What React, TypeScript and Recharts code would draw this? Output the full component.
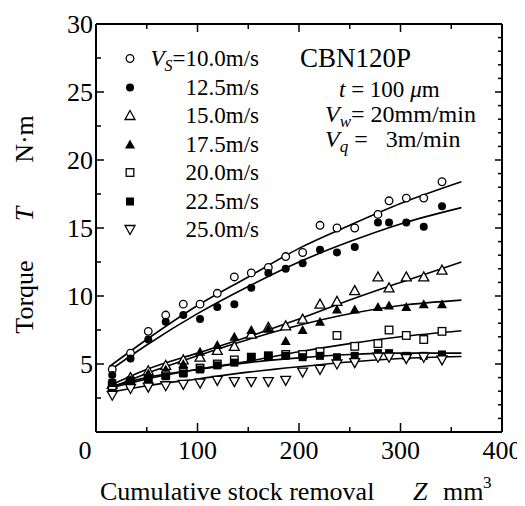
import React from 'react';
import { ComposedChart, XAxis, YAxis, Scatter, Line } from 'recharts';

const FONT = '"Liberation Serif", "Times New Roman", serif';

// Cumulative stock removal Z (mm^3) of the measured points
const Z = [16, 34, 51.5, 68.7, 86, 102.5, 119.5, 136.3, 153, 169.8, 186.9, 203.6, 220.7, 237.4, 254.9, 277.8, 288.7, 305.7, 322.9, 340.9];

// Torque T (N·m) for each grinding speed
const T10 = [4.6, 5.8, 7.4, 8.6, 9.4, 9.4, 10.2, 11.4, 11.7, 12.1, 12.9, 13.2, 15.2, 15.0, 15.0, 16.0, 17.0, 17.2, 17.2, 18.4];
const T12_5 = [4.2, 5.4, 6.8, 8.1, 8.6, 8.3, 9.2, 9.4, 10.6, 11.7, 12.0, 12.4, 13.4, 13.2, 13.6, 15.4, 15.4, 15.4, 15.1, 16.6];
const T15 = [3.5, 4.0, 4.5, 4.9, 5.3, 5.5, 6.0, 6.3, 7.2, 7.7, 7.8, 8.3, 9.4, 9.6, 10.4, 11.4, 10.6, 11.4, 11.4, 11.9];
const T17_5 = [3.3, 3.8, 4.3, 4.6, 5.0, 5.9, 6.4, 7.0, 7.5, 7.6, 6.7, 7.5, 8.1, 9.0, 9.0, 9.2, 9.3, 9.2, 9.4, 9.4];
const T20 = [3.4, 3.6, 3.9, 4.2, 4.4, 4.7, 5.0, 5.3, 5.5, 5.6, 5.7, 5.7, 5.9, 7.1, 6.3, 6.5, 7.5, 7.1, 6.8, 7.4];
const T22_5 = [3.6, 3.8, 3.9, 4.1, 4.3, 4.6, 4.9, 5.1, 5.5, 5.6, 5.6, 5.5, 5.6, 5.5, 5.6, 5.8, 5.8, 5.6, 5.6, 5.7];
const T25 = [2.7, 3.2, 3.3, 3.4, 3.5, 3.6, 3.8, 3.7, 3.7, 3.7, 3.8, 4.4, 4.6, 5.0, 5.1, 5.5, 5.5, 5.4, 5.5, 5.3];

// Fitted curves
const FIT_Z = [13, 50, 100, 150, 200, 250, 300, 360];
const FIT10 = [4.8, 6.8, 9.3, 11.4, 13.5, 15.2, 16.8, 18.4];
const FIT12_5 = [4.5, 6.4, 8.7, 10.7, 12.5, 14.0, 15.3, 16.5];
const FIT15 = [3.4, 4.6, 5.8, 7.0, 8.3, 9.7, 11.0, 12.5];
const FIT17_5 = [3.2, 4.3, 5.6, 6.8, 7.85, 8.7, 9.3, 9.7];
const FIT20 = [3.2, 3.9, 4.6, 5.2, 5.9, 6.5, 7.0, 7.45];
const FIT22_5 = [3.3, 4.0, 4.6, 5.1, 5.45, 5.7, 5.8, 5.8];
const FIT25 = [2.9, 3.4, 3.9, 4.4, 4.8, 5.15, 5.4, 5.55];

const SPEEDS = ['10.0', '12.5', '15.0', '17.5', '20.0', '22.5', '25.0'];
const KINDS = ['circleOpen', 'circleFill', 'triOpen', 'triFill', 'sqOpen', 'sqFill', 'invTriOpen'];
const SERIES = [T10, T12_5, T15, T17_5, T20, T22_5, T25];
const FITS = [FIT10, FIT12_5, FIT15, FIT17_5, FIT20, FIT22_5, FIT25];

const X_TICKS = [0, 50, 100, 150, 200, 250, 300, 350, 400];
const Y_TICKS_L = [0, 2.5, 5, 7.5, 10, 12.5, 15, 17.5, 20, 22.5, 25, 27.5, 30];
const Y_TICKS_R = Array.from({ length: 31 }, (_, i) => i);

function Marker({ kind, cx, cy }: { kind: string; cx: number; cy: number }) {
  const sw = 1.3;
  switch (kind) {
    case 'circleOpen':
      return <circle cx={cx} cy={cy} r={3.8} fill="#fff" stroke="#000" strokeWidth={sw} />;
    case 'circleFill':
      return <circle cx={cx} cy={cy} r={4} fill="#000" />;
    case 'triOpen':
      return <polygon points={`${cx},${cy - 5} ${cx - 5},${cy + 4} ${cx + 5},${cy + 4}`} fill="#fff" stroke="#000" strokeWidth={sw} />;
    case 'triFill':
      return <polygon points={`${cx},${cy - 5} ${cx - 5},${cy + 4} ${cx + 5},${cy + 4}`} fill="#000" />;
    case 'sqOpen':
      return <rect x={cx - 3.8} y={cy - 3.8} width={7.6} height={7.6} fill="#fff" stroke="#000" strokeWidth={sw} />;
    case 'sqFill':
      return <rect x={cx - 4} y={cy - 4} width={8} height={8} fill="#000" />;
    default:
      return <polygon points={`${cx},${cy + 5} ${cx - 5},${cy - 4} ${cx + 5},${cy - 4}`} fill="#fff" stroke="#000" strokeWidth={sw} />;
  }
}

const BottomTick = (p: any) => {
  const { x, y, payload } = p;
  const v = payload.value;
  const major = v % 100 === 0;
  return (
    <g>
      <line x1={x} x2={x} y1={y} y2={y - (major ? 9 : 5)} stroke="#000" strokeWidth={1.5} />
      {major && (
        <text x={v === 0 ? x - 11 : x} y={y + 27} textAnchor="middle" fontFamily={FONT} fontSize={26} fill="#000">
          {v}
        </text>
      )}
    </g>
  );
};

const TopTick = (p: any) => {
  const { x, y, payload } = p;
  const major = payload.value % 100 === 0;
  return <line x1={x} x2={x} y1={y} y2={y + (major ? 8 : 5)} stroke="#000" strokeWidth={1.5} />;
};

const LeftTick = (p: any) => {
  const { x, y, payload } = p;
  const v = payload.value;
  const major = v % 5 === 0;
  return (
    <g>
      <line x1={x} x2={x + (major ? 8 : 5)} y1={y} y2={y} stroke="#000" strokeWidth={1.5} />
      {major && v !== 0 && (
        <text x={x - 3} y={y + 9} textAnchor="end" fontFamily={FONT} fontSize={26} fill="#000">
          {v}
        </text>
      )}
    </g>
  );
};

const RightTick = (p: any) => {
  const { x, y, payload } = p;
  const major = payload.value % 5 === 0;
  return <line x1={x} x2={x - (major ? 7 : 4)} y1={y} y2={y} stroke="#000" strokeWidth={1.5} />;
};

const LEGEND_Y = [58, 87, 115, 144, 172, 201, 229];
const NB = '\u00A0';

export default function App() {
  const scatterData = SERIES.map((s) => Z.map((z, i) => ({ z, t: s[i] })));
  const fitData = FITS.map((f) => FIT_Z.map((z, i) => ({ z, t: f[i] })));
  const W = 517;
  const H = 498;
  return (
    <div style={{ position: 'relative', width: W, height: H }}>
      <ComposedChart width={W} height={H} margin={{ top: 0, right: 0, bottom: 0, left: 0 }}>
        <XAxis xAxisId="b" dataKey="z" type="number" domain={[0, 400]} ticks={X_TICKS} interval={0}
          height={74} tickSize={0} tickMargin={0} tick={BottomTick} axisLine={{ stroke: '#000', strokeWidth: 2 }} tickLine={false} allowDataOverflow />
        <XAxis xAxisId="t" orientation="top" dataKey="z" type="number" domain={[0, 400]} ticks={X_TICKS} interval={0}
          height={16} tickSize={0} tickMargin={0} tick={TopTick} axisLine={{ stroke: '#000', strokeWidth: 2 }} tickLine={false} allowDataOverflow />
        <YAxis yAxisId="l" dataKey="t" type="number" domain={[0, 30]} ticks={Y_TICKS_L} interval={0}
          width={88} tickSize={0} tickMargin={0} tick={LeftTick} axisLine={{ stroke: '#000', strokeWidth: 2 }} tickLine={false} allowDataOverflow />
        <YAxis yAxisId="r" orientation="right" dataKey="t" type="number" domain={[0, 30]} ticks={Y_TICKS_R} interval={0}
          width={23} tickSize={0} tickMargin={0} tick={RightTick} axisLine={{ stroke: '#000', strokeWidth: 2 }} tickLine={false} allowDataOverflow />
        {fitData.map((d, i) => (
          <Line key={'f' + i} data={d} dataKey="t" xAxisId="b" yAxisId="l" type="monotone" dot={false}
            stroke="#000" strokeWidth={1.6} isAnimationActive={false} />
        ))}
        {scatterData.map((d, i) => (
          <Scatter key={'s' + i} data={d} dataKey="t" xAxisId="b" yAxisId="l" isAnimationActive={false}
            shape={(p: any) => <Marker kind={KINDS[i]} cx={p.cx} cy={p.cy} />} />
        ))}
      </ComposedChart>
      <svg width={W} height={H} style={{ position: 'absolute', left: 0, top: 0, pointerEvents: 'none' }}
        fontFamily={FONT} fill="#000">
        {/* Legend */}
        {SPEEDS.map((s, i) => (
          <g key={s}>
            <Marker kind={KINDS[i]} cx={122} cy={LEGEND_Y[i] - 7.5} />
            {i === 0 ? (
              <text x={251} y={LEGEND_Y[i]} textAnchor="end" fontSize={23}>
                <tspan fontStyle="italic">V</tspan>
                <tspan fontStyle="italic" fontSize={16} dy={5}>S</tspan>
                <tspan dy={-5}>={s}m/s</tspan>
              </text>
            ) : (
              <text x={251} y={LEGEND_Y[i]} textAnchor="end" fontSize={23}>{s}m/s</text>
            )}
          </g>
        ))}
        {/* Conditions */}
        <text x={292} y={59} fontSize={27}>CBN120P</text>
        <text x={331} y={89} fontSize={23}>
          <tspan fontStyle="italic">t</tspan> = 100 <tspan fontStyle="italic">μ</tspan>m
        </text>
        <text x={317} y={114} fontSize={24}>
          <tspan fontStyle="italic">V</tspan>
          <tspan fontStyle="italic" fontSize={17} dy={5}>w</tspan>
          <tspan dy={-5}>= 20mm/min</tspan>
        </text>
        <text x={317} y={139} fontSize={24}>
          <tspan fontStyle="italic">V</tspan>
          <tspan fontStyle="italic" fontSize={17} dy={5}>q</tspan>
          <tspan dy={-5}>{NB + '=' + NB + NB + NB + '3m/min'}</tspan>
        </text>
        {/* Y axis title */}
        <text transform="translate(25,289) rotate(-90)" textAnchor="middle" fontSize={26}>Torque</text>
        <text transform="translate(25,206) rotate(-90)" textAnchor="middle" fontSize={26} fontStyle="italic">T</text>
        <text transform="translate(25,131) rotate(-90)" textAnchor="middle" fontSize={26}>N·m</text>
        {/* X axis title */}
        <text x={92} y={492} fontSize={26}>Cumulative stock removal</text>
        <text x={405} y={492} fontSize={26} fontStyle="italic">Z</text>
        <text x={435} y={492} fontSize={26}>mm</text>
        <text x={475} y={480} fontSize={17}>3</text>
      </svg>
    </div>
  );
}
